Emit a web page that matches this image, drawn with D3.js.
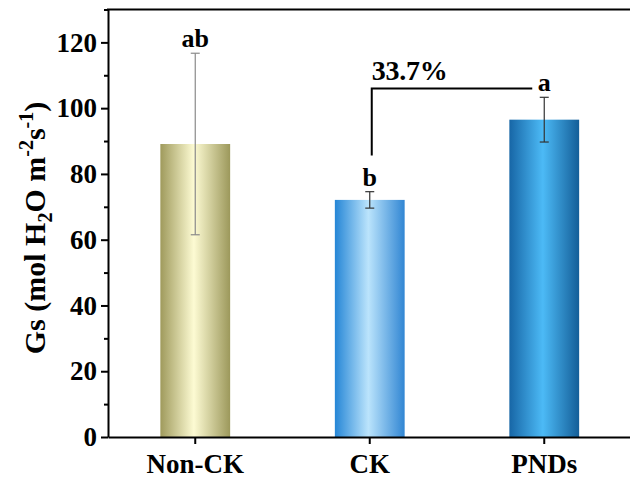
<!DOCTYPE html>
<html><head><meta charset="utf-8">
<script src="https://cdn.jsdelivr.net/npm/d3@7"></script>
<style>
html,body{margin:0;padding:0;background:#fff;}
text{font-family:"Liberation Serif","Times New Roman",serif;font-weight:bold;fill:#000;}
</style></head>
<body><svg id="chart" width="630" height="482"></svg>
<script>
const categories = ["Non-CK", "CK", "PNDs"];
const means = [89.1, 72.1, 96.5];
const errors = [27.6, 2.5, 6.8];
const letters = ["ab", "b", "a"];
const yTicks = [0, 20, 40, 60, 80, 100, 120];
const yMinorTicks = [10, 30, 50, 70, 90, 110, 130];
const gradStops = [
  ["#9f9a5c", "#fdfbd3", "#9c985b"],
  ["#2586d6", "#bbe4fc", "#3186d3"],
  ["#1766a6", "#4cbaf6", "#145e98"]
];
const errColors = ["#8a8a8a", "#333", "#333"];
const bracketLabel = "33.7%";
const bracketValues = [85.6, 106];

const svg = d3.select("#chart");
const mLeft = 108, mTop = 9.5, mBottom = 437;
const x = d3.scaleBand().domain(categories).range([mLeft, mLeft + 3 * 174.5]).paddingInner(0.6).paddingOuter(0.3);
const y = d3.scaleLinear().domain([0, 130]).range([mBottom, mTop]);

const defs = svg.append("defs");
gradStops.forEach((s, i) => {
  const g = defs.append("linearGradient").attr("id", "g" + i).attr("x1", "0%").attr("x2", "100%").attr("y1", "0%").attr("y2", "0%");
  g.append("stop").attr("offset", "0%").attr("stop-color", s[0]);
  g.append("stop").attr("offset", "48%").attr("stop-color", s[1]);
  g.append("stop").attr("offset", "100%").attr("stop-color", s[2]);
});

// bars
svg.selectAll("rect.bar").data(categories).join("rect")
  .attr("class", "bar")
  .attr("x", d => x(d)).attr("width", x.bandwidth())
  .attr("y", (d, i) => y(means[i])).attr("height", (d, i) => y(0) - y(means[i]))
  .attr("fill", (d, i) => `url(#g${i})`);

// error bars
categories.forEach((c, i) => {
  const cx = x(c) + x.bandwidth() / 2;
  const g = svg.append("g").attr("stroke", errColors[i]).attr("stroke-width", 1.2);
  g.append("line").attr("x1", cx).attr("x2", cx).attr("y1", y(means[i] + errors[i])).attr("y2", y(means[i] - errors[i]));
  g.append("line").attr("x1", cx - 4.5).attr("x2", cx + 4.5).attr("y1", y(means[i] + errors[i])).attr("y2", y(means[i] + errors[i]));
  g.append("line").attr("x1", cx - 4.5).attr("x2", cx + 4.5).attr("y1", y(means[i] - errors[i])).attr("y2", y(means[i] - errors[i]));
  svg.append("text").attr("x", cx).attr("y", y(means[i] + errors[i]) - 6)
    .attr("text-anchor", "middle").attr("font-size", 26).text(letters[i]);
});

// bracket
const bx1 = x("CK") + x.bandwidth() / 2 + 2;
const bx2 = x("PNDs") + x.bandwidth() / 2 - 12;
svg.append("path")
  .attr("d", `M${bx1},${y(bracketValues[0])}V${y(bracketValues[1])}H${bx2}`)
  .attr("fill", "none").attr("stroke", "#000").attr("stroke-width", 2);
svg.append("text").attr("x", bx1).attr("y", y(bracketValues[1]) - 8)
  .attr("font-size", 28).attr("textLength", 76).text(bracketLabel);

// axes
const yAxis = svg.append("g").attr("transform", `translate(${mLeft},0)`)
  .call(d3.axisLeft(y).tickValues(yTicks).tickSize(7).tickSizeOuter(0).tickPadding(4));
yAxis.selectAll("text").attr("font-size", 27).style("font-family", '"Liberation Serif","Times New Roman",serif').style("font-weight", "bold");
const yMinor = svg.append("g").attr("transform", `translate(${mLeft},0)`)
  .call(d3.axisLeft(y).tickValues(yMinorTicks).tickSize(4).tickFormat(""));
yMinor.select(".domain").remove();
[yAxis, yMinor].forEach(a => { a.selectAll("line").attr("stroke-width", 2).attr("stroke", "#000"); });
yAxis.select(".domain").attr("stroke-width", 2).attr("stroke", "#000");

const xAxis = svg.append("g").attr("transform", `translate(0,${mBottom})`)
  .call(d3.axisBottom(x).tickSize(7).tickSizeOuter(0).tickPadding(10));
xAxis.selectAll("text").attr("font-size", 27).style("font-family", '"Liberation Serif","Times New Roman",serif').style("font-weight", "bold");
xAxis.selectAll("line").attr("stroke-width", 2).attr("stroke", "#000");
xAxis.select(".domain").attr("stroke-width", 2).attr("stroke", "#000");

// top border
svg.append("line").attr("x1", mLeft - 1).attr("x2", 632).attr("y1", y(130)).attr("y2", y(130))
  .attr("stroke", "#000").attr("stroke-width", 2);

// y label
const yl = svg.append("text").attr("transform", `translate(45,228) rotate(-90)`)
  .attr("text-anchor", "middle").attr("font-size", 30);
yl.append("tspan").text("Gs (mol H");
yl.append("tspan").attr("font-size", 20).attr("dy", 7).text("2");
yl.append("tspan").attr("dy", -7).text("O m");
yl.append("tspan").attr("font-size", 20).attr("dy", -12).text("-2");
yl.append("tspan").attr("dy", 12).text("s");
yl.append("tspan").attr("font-size", 20).attr("dy", -12).text("-1");
yl.append("tspan").attr("dy", 12).text(")");
</script></body></html>
